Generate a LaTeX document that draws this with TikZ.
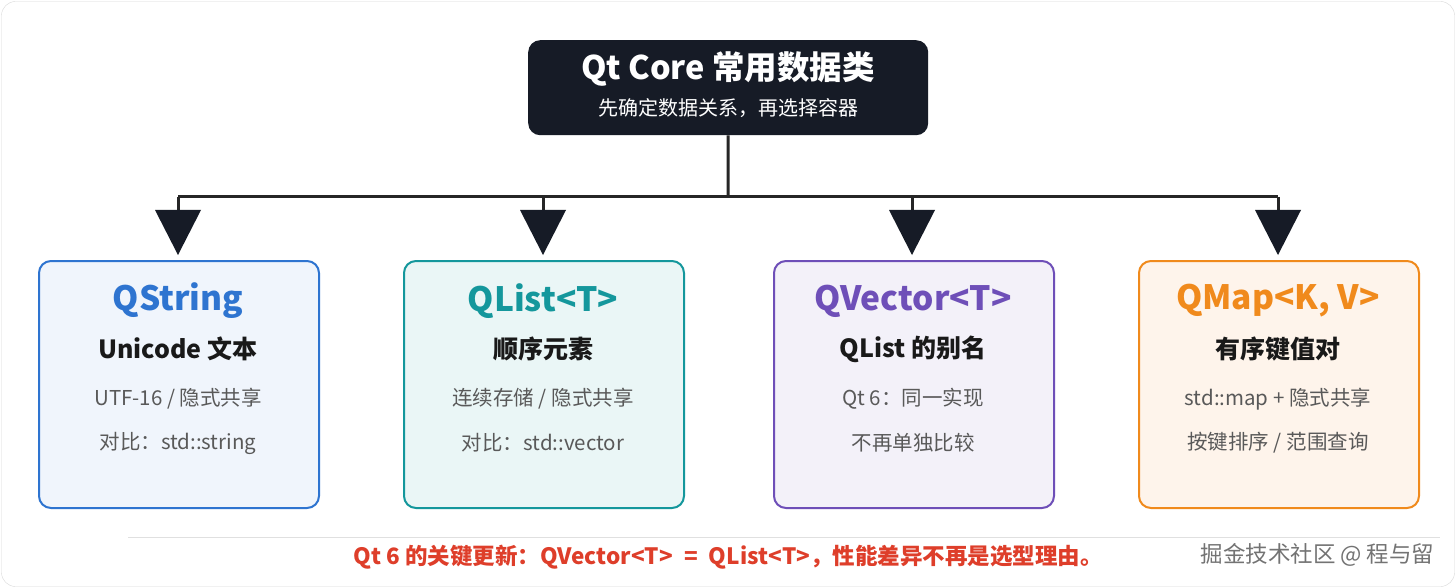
\documentclass[tikz,border=0pt]{standalone}
\usepackage{fontspec}
\setmainfont{Noto Sans CJK SC}
\begin{document}
\begin{tikzpicture}[x=1pt,y=-1pt,
 card/.style={draw=#1,line width=2pt,rounded corners=12pt,minimum width=280pt,minimum height=247pt,anchor=north west},
 ttl/.style={font=\fontsize{33.5}{38}\selectfont\bfseries,text=#1},
 sub/.style={font=\fontsize{25}{29}\selectfont\bfseries,text=black!90},
 ln/.style={font=\fontsize{20.5}{24}\selectfont,text=black!65},
 conn/.style={line width=3pt,draw=black!85}]
\definecolor{cb}{HTML}{2E74D0}\definecolor{ct}{HTML}{14979C}\definecolor{cp}{HTML}{6E4FB8}\definecolor{co}{HTML}{F08A1C}
\definecolor{dark}{HTML}{161B26}
\useasboundingbox (0,0) rectangle (1456,588);
\draw[black!15,fill=white,rounded corners=14pt] (1.5,1.5) rectangle (1454.5,586.5);
\node[fill=dark,rounded corners=12pt,minimum width=400pt,minimum height=95pt,anchor=north west] (top) at (528,40) {};
\node[text=white,font=\fontsize{32.5}{36}\selectfont\bfseries] (tt) at (728,69) {Qt Core 常用数据类};
\node[text=white,font=\fontsize{20}{24}\selectfont] (ts) at (728,108) {先确定数据关系，再选择容器};
\coordinate (j) at (728,197);
\coordinate (l) at (178,197);
\coordinate (r) at (1278,197);
\draw[conn] (top.south) -- (j);
\draw[conn] (l) -- (r);
\foreach \x/\n in {178/a,543/b,912/c,1278/d}{
 \coordinate (s\n) at (\x,197);
 \coordinate (e\n) at (\x,212);
 \draw[conn] (s\n) -- (e\n);
 \fill[dark] (\x-23,210) -- (\x+23,210) -- (\x,255) -- cycle;
}
\node[card=cb,fill=cb!7] (c1) at (38,260) {};
\node[card=ct,fill=ct!9] (c2) at (403,260) {};
\node[card=cp,fill=cp!8] (c3) at (773,260) {};
\node[card=co,fill=co!9] (c4) at (1138,260) {};
\node[ttl=cb] (t1) at (178,301) {QString};
\node[ttl=ct] (t2) at (543,301) {QList<T>};
\node[ttl=cp] (t3) at (913,301) {QVector<T>};
\node[ttl=co] (t4) at (1278,301) {QMap<K, V>};
\node[sub] (u1) at (178,349) {Unicode 文本};
\node[sub] (u2) at (543,349) {顺序元素};
\node[sub] (u3) at (913,349) {QList 的别名};
\node[sub] (u4) at (1278,349) {有序键值对};
\node[ln] (a1) at (178,399) {UTF-16 / 隐式共享};
\node[ln] (a2) at (543,399) {连续存储 / 隐式共享};
\node[ln] (a3) at (913,399) {Qt 6：同一实现};
\node[ln] (a4) at (1278,399) {std::map + 隐式共享};
\node[ln] (b1) at (178,443) {对比：std::string};
\node[ln] (b2) at (543,443) {对比：std::vector};
\node[ln] (b3) at (913,443) {不再单独比较};
\node[ln] (b4) at (1278,443) {按键排序 / 范围查询};
\draw[black!12] (128,537) -- (1440,537);
\node[text={rgb,255:red,222;green,62;blue,42},font=\fontsize{22.5}{26}\selectfont\bfseries] (note) at (728,557) {Qt 6 的关键更新：QVector<T>\hspace{0.5em}=\hspace{0.5em}QList<T>，性能差异不再是选型理由。};
\node[text=black!55,font=\fontsize{22.5}{26}\selectfont,anchor=east] (wm) at (1438,555) {掘金技术社区 @ 程与留};
\end{tikzpicture}
\end{document}
